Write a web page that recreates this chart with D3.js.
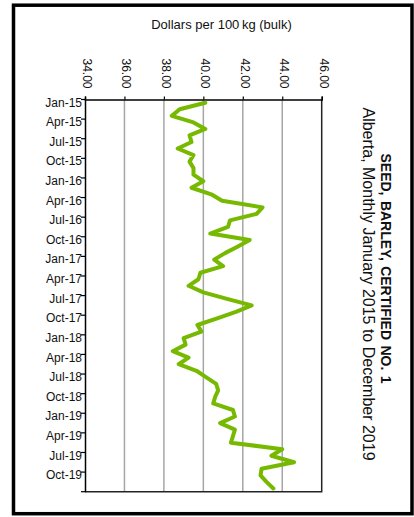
<!DOCTYPE html>
<html>
<head>
<meta charset="utf-8">
<script src="https://cdn.jsdelivr.net/npm/d3@7/dist/d3.min.js"></script>
<style>
  html, body { margin: 0; padding: 0; background: #fff; }
  svg { display: block; font-family: "Liberation Sans", Arial, sans-serif; }
</style>
</head>
<body>
<svg id="chart" width="414" height="517"></svg>
<script>
const months = [
  "Jan-15","Feb-15","Mar-15","Apr-15","May-15","Jun-15","Jul-15","Aug-15","Sep-15","Oct-15","Nov-15","Dec-15",
  "Jan-16","Feb-16","Mar-16","Apr-16","May-16","Jun-16","Jul-16","Aug-16","Sep-16","Oct-16","Nov-16","Dec-16",
  "Jan-17","Feb-17","Mar-17","Apr-17","May-17","Jun-17","Jul-17","Aug-17","Sep-17","Oct-17","Nov-17","Dec-17",
  "Jan-18","Feb-18","Mar-18","Apr-18","May-18","Jun-18","Jul-18","Aug-18","Sep-18","Oct-18","Nov-18","Dec-18",
  "Jan-19","Feb-19","Mar-19","Apr-19","May-19","Jun-19","Jul-19","Aug-19","Sep-19","Oct-19","Nov-19","Dec-19"
];
const prices = [
  40.1, 38.8, 38.4, 39.5, 40.1, 39.3, 39.4, 38.7, 39.5, 39.3, 39.5, 39.5,
  40.0, 39.4, 40.4, 40.95, 43.0, 42.7, 41.35, 41.25, 40.35, 42.35, 41.75, 41.1,
  40.55, 41.0, 39.85, 39.75, 39.25, 40.0, 41.2, 42.45, 41.65, 40.7, 39.7, 39.9,
  39.0, 39.1, 38.45, 39.25, 38.75, 39.65, 40.15, 40.65, 40.75, 40.6, 40.5, 41.5,
  41.6, 40.85, 41.6, 41.5, 41.4, 44.0, 43.45, 44.6, 42.95, 42.9, 43.2, 43.55
];
const monthTicks = months.filter((m, i) => i % 3 === 0);
const valueTicks = [34, 36, 38, 40, 42, 44, 46];
const valueTitle = "Dollars per 100\u2009kg (bulk)";
const chartTitle = "SEED, BARLEY, CERTIFIED NO. 1";
const chartSubtitle = "Alberta, Monthly January 2015 to December 2019";

const data = months.map((m, i) => ({ m, v: prices[i] }));
const svg = d3.select("#chart");

// outer frame
svg.append("rect")
  .attr("x", 13.5).attr("y", 5.2).attr("width", 398.5).attr("height", 508.5)
  .attr("fill", "none").attr("stroke", "#000").attr("stroke-width", 3.5);

const plot = { left: 85, right: 321.7, top: 99.5, bottom: 491.7 };

const x = d3.scaleLinear().domain([34, 46]).range([plot.left, plot.right]);
const y = d3.scaleBand().domain(months).range([plot.top, plot.bottom]).padding(0);

// gridlines
svg.append("g").selectAll("line")
  .data(valueTicks.slice(1, -1))
  .join("line")
  .attr("x1", d => x(d)).attr("x2", d => x(d))
  .attr("y1", plot.top).attr("y2", plot.bottom)
  .attr("stroke", "#a6a6a6").attr("stroke-width", 1.5);

// plot border (right & bottom)
svg.append("path")
  .attr("d", `M${plot.right},${plot.top}V${plot.bottom}H${plot.left}`)
  .attr("fill", "none").attr("stroke", "#222").attr("stroke-width", 1.5);

// value axis (top)
const xAxis = svg.append("g")
  .attr("transform", `translate(0,${plot.top})`)
  .call(d3.axisTop(x).tickValues(valueTicks).tickSize(3).tickFormat(d3.format(".2f")));
xAxis.select(".domain").attr("stroke", "#000").attr("stroke-width", 1.5);
xAxis.selectAll(".tick line").attr("stroke", "#000").attr("stroke-width", 1.2);
xAxis.selectAll(".tick text")
  .attr("x", 0).attr("y", 0).attr("dy", null)
  .attr("transform", "translate(1.5,-11) rotate(90)")
  .attr("text-anchor", "end")
  .attr("dominant-baseline", "central")
  .attr("font-size", 12).attr("fill", "#111")
  .attr("font-family", "Liberation Sans, Arial, sans-serif");

// category axis (left)
const yAxis = svg.append("g")
  .attr("transform", `translate(${plot.left},0)`)
  .call(d3.axisLeft(y).tickValues(monthTicks).tickSize(0).tickPadding(3));
yAxis.select(".domain").attr("stroke", "#000").attr("stroke-width", 1.5);
yAxis.selectAll(".tick text")
  .attr("font-size", 12).attr("fill", "#111")
  .attr("font-family", "Liberation Sans, Arial, sans-serif");
// tick marks at category boundaries
svg.append("g").selectAll("line")
  .data(monthTicks.concat(["__end"]))
  .join("line")
  .attr("x1", plot.left - 4).attr("x2", plot.left)
  .attr("y1", d => d === "__end" ? plot.bottom : y(d))
  .attr("y2", d => d === "__end" ? plot.bottom : y(d))
  .attr("stroke", "#000").attr("stroke-width", 1.2);

// data line
const line = d3.line()
  .x(d => x(d.v))
  .y(d => y(d.m) + y.bandwidth() / 2);
svg.append("path")
  .datum(data)
  .attr("d", line)
  .attr("fill", "none")
  .attr("stroke", "#76b900")
  .attr("stroke-width", 4)
  .attr("stroke-linejoin", "round")
  .attr("stroke-linecap", "round");

// value axis title
svg.append("text")
  .attr("x", 221.5).attr("y", 28.5)
  .attr("text-anchor", "middle")
  .attr("font-size", 13).attr("fill", "#111")
  .text(valueTitle);

// chart title (rotated)
svg.append("text")
  .attr("transform", "translate(381,268.5) rotate(90)")
  .attr("text-anchor", "middle")
  .attr("font-size", 14).attr("font-weight", "bold").attr("fill", "#111")
  .attr("word-spacing", 1.5)
  .text(chartTitle);

svg.append("text")
  .attr("transform", "translate(363,284) rotate(90)")
  .attr("text-anchor", "middle")
  .attr("font-size", 16).attr("fill", "#111")
  .text(chartSubtitle);
</script>
</body>
</html>
